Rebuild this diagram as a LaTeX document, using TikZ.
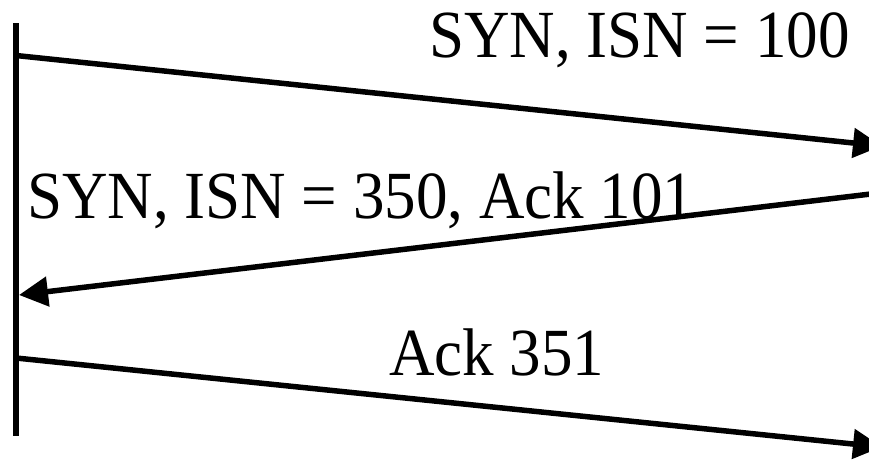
\documentclass[tikz,border=0pt]{standalone}
\usepackage{graphicx}
\usepackage{fontspec}
\setmainfont{Liberation Serif}
\usetikzlibrary{arrows.meta}
\newcommand{\tallText}[1]{\scalebox{1}[1.07]{#1}}
\begin{document}
\begin{tikzpicture}[x=1pt,y=-1pt,
  lifeline/.style={line width=6pt},
  msg/.style={line width=5.5pt,-{Triangle[length=29pt,width=29pt]}},
  msglabel/.style={anchor=base west,inner sep=0pt,font=\fontsize{63}{70}\selectfont}]
  \useasboundingbox (0,0) rectangle (869,463);
  % lifeline of the client
  \coordinate (top) at (16,23);
  \coordinate (bot) at (16,436);
  \draw[lifeline] (top) -- (bot);
  % message end points
  \coordinate (a1) at (16,55.5);
  \coordinate (b1) at (882,146);
  \coordinate (a2) at (875,193.5);
  \coordinate (b2) at (19,295);
  \coordinate (a3) at (16,358);
  \coordinate (b3) at (882,447);
  \draw[msg] (a1) -- (b1);
  \draw[msg] (a2) -- (b2);
  \draw[msg] (a3) -- (b3);
  % labels
  \node[msglabel] (l1) at (429,57) {\tallText{SYN, ISN = 100}};
  \node[msglabel] (l2) at (27,218) {\tallText{SYN, ISN = 350, Ack 101}};
  \node[msglabel] (l3) at (389,375) {\tallText{Ack 351}};
\end{tikzpicture}
\end{document}
